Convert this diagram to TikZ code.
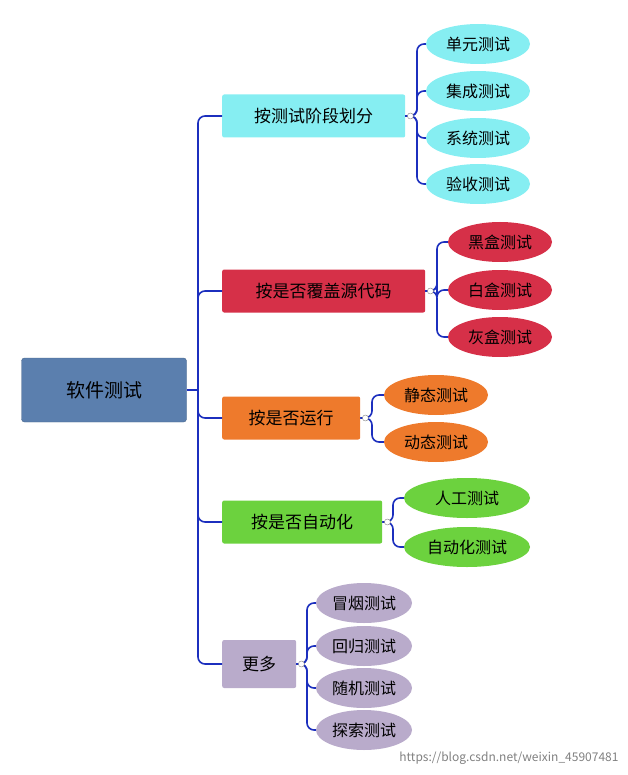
\documentclass[tikz,border=0pt]{standalone}
\usepackage{fontspec}
\setmainfont{Noto Sans CJK SC}
\usetikzlibrary{shapes.geometric}
\definecolor{cy}{HTML}{86EEF2}
\definecolor{rd}{HTML}{D63048}
\definecolor{og}{HTML}{EE7A2C}
\definecolor{gr}{HTML}{6CD23E}
\definecolor{lv}{HTML}{B9ABCB}
\definecolor{rt}{HTML}{5B7FAE}
\definecolor{ln}{HTML}{1C2FBE}
\tikzset{
 rootbox/.style={draw=rt!80!black,fill=rt,rounded corners=3pt,minimum width=165pt,minimum height=64pt,font=\fontsize{19}{22}\selectfont,text=black},
 br/.style={fill=#1,rounded corners=2pt,minimum height=43pt,inner xsep=12pt,font=\fontsize{17}{20}\selectfont,anchor=west},
 lf/.style={ellipse,fill=#1,minimum height=40pt,minimum width=104pt,inner sep=0pt,font=\fontsize{16}{19}\selectfont},
 con/.style={draw=ln,line width=1.6pt,rounded corners=7pt},
 dot/.style={circle,draw=gray,fill=white,inner sep=0pt,minimum size=6pt}
}
\begin{document}
\begin{tikzpicture}[x=1pt,y=-1pt]
\useasboundingbox (0,0) rectangle (627,775);
\node[rootbox] (root) at (104,390) {软件测试};
\node[br=cy,minimum width=183pt] (b1) at (222,116) {按测试阶段划分};
\node[br=rd,minimum width=203pt,text=black] (b2) at (222,291) {按是否覆盖源代码};
\node[br=og,minimum width=138pt] (b3) at (222,418) {按是否运行};
\node[br=gr,minimum width=160pt] (b4) at (222,522) {按是否自动化};
\node[br=lv,minimum width=74pt,minimum height=48pt] (b5) at (222,664) {更多};
\coordinate (tr) at (198,390);
\draw[con] (root.east) -- (tr);
\foreach \b in {b1,b2,b3,b4,b5}{\draw[con] (tr) |- (\b.west);}
% leaves
\foreach \n/\y/\t in {11/44/单元测试,12/91/集成测试,13/138/系统测试,14/184/验收测试}{\node[lf=cy] (l\n) at (478,\y) {\t};}
\foreach \n/\y/\t in {21/242/黑盒测试,22/290/白盒测试,23/337/灰盒测试}{\node[lf=rd] (l\n) at (500,\y) {\t};}
\foreach \n/\y/\t in {31/395/静态测试,32/442/动态测试}{\node[lf=og] (l\n) at (436,\y) {\t};}
\foreach \n/\y/\t in {41/498/人工测试,42/547/自动化测试}{\node[lf=gr,minimum width=126pt] (l\n) at (467,\y) {\t};}
\foreach \n/\y/\t in {51/603/冒烟测试,52/646/回归测试,53/688/随机测试,54/730/探索测试}{\node[lf=lv,minimum width=96pt] (l\n) at (364,\y) {\t};}
% connectors
\coordinate (j1) at (417,116);
\foreach \l in {l11,l12,l13,l14}{\draw[con] (b1.east) -- (j1) |- (\l.west);}
\coordinate (j2) at (437,291);
\foreach \l in {l21,l22,l23}{\draw[con] (b2.east) -- (j2) |- (\l.west);}
\coordinate (j3) at (372,418);
\foreach \l in {l31,l32}{\draw[con] (b3.east) -- (j3) |- (\l.west);}
\coordinate (j4) at (393,522);
\foreach \l in {l41,l42}{\draw[con] (b4.east) -- (j4) |- (\l.west);}
\coordinate (j5) at (307,664);
\foreach \l in {l51,l52,l53,l54}{\draw[con] (b5.east) -- (j5) |- (\l.west);}
\foreach \b in {b1,b2,b3,b4,b5}{\node[dot] at ([xshift=5pt]\b.east) {};}
\node[text=gray,font=\fontsize{12}{14}\selectfont,anchor=south east] (wm) at (622,768) {https://blog.csdn.net/weixin\_45907481};
\end{tikzpicture}
\end{document}
